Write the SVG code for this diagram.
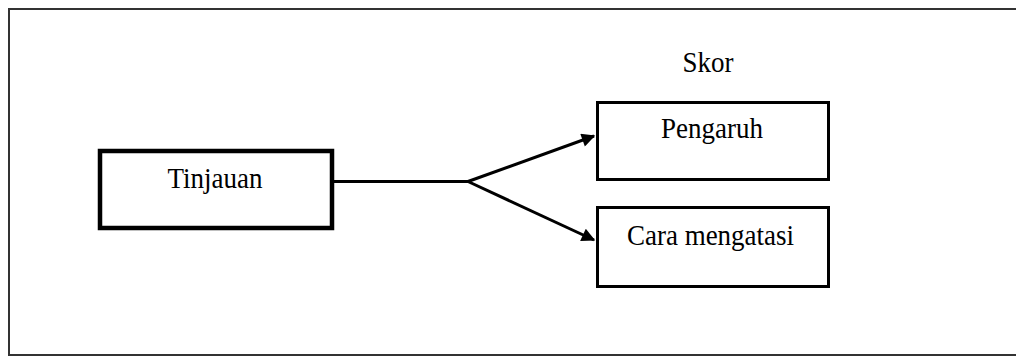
<svg xmlns="http://www.w3.org/2000/svg" width="1016" height="356" viewBox="0 0 1016 356">
<defs>
<style>
.t{font-family:"Liberation Serif","Times New Roman",serif;font-size:27px;fill:#000;text-anchor:middle}
.box{fill:#fff;stroke:#000}
.con{fill:none;stroke:#000;stroke-width:3}
</style>
<marker id="ah" viewBox="0 0 10 10" refX="9" refY="5" markerWidth="5.5" markerHeight="4.5" orient="auto" markerUnits="strokeWidth">
<path d="M0,0 L10,5 L0,10 z" fill="#000"/>
</marker>
</defs>
<rect x="0" y="0" width="1016" height="356" fill="#fff"/>
<rect x="9" y="9" width="1020" height="346" fill="none" stroke="#333" stroke-width="2"/>
<text class="t" transform="translate(708,72) scale(1,1.1)">Skor</text>
<g id="connectors">
<polyline class="con" points="334,181.5 468,181.5"/>
<line class="con" x1="468" y1="181.5" x2="594" y2="136" marker-end="url(#ah)"/>
<line class="con" x1="468" y1="181.5" x2="594" y2="240" marker-end="url(#ah)"/>
</g>
<g id="tinjauan">
<rect class="box" x="100" y="151" width="232" height="77" stroke-width="4.5"/>
<text class="t" transform="translate(215,188) scale(1,1.1)">Tinjauan</text>
</g>
<g id="pengaruh">
<rect class="box" x="597.5" y="102.5" width="231" height="77" stroke-width="3"/>
<text class="t" transform="translate(712,138) scale(1,1.1)">Pengaruh</text>
</g>
<g id="cara">
<rect class="box" x="597.5" y="207.5" width="231" height="79" stroke-width="3"/>
<text class="t" transform="translate(710.5,245) scale(1,1.1)">Cara mengatasi</text>
</g>
</svg>
